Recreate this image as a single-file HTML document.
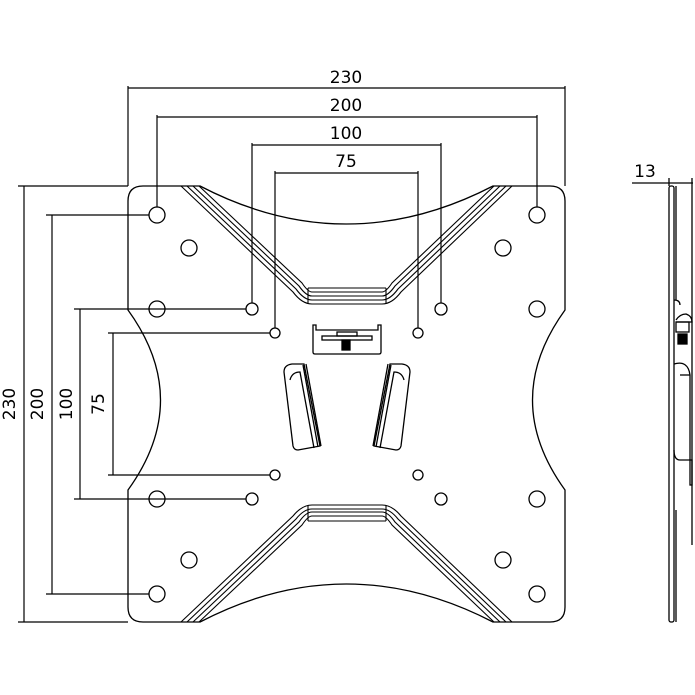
<!DOCTYPE html>
<html><head><style>body{margin:0;background:#fff}svg{display:block}text{font-family:"DejaVu Sans","Liberation Sans",sans-serif;font-size:17px;fill:#000}</style></head>
<body>
<svg width="695" height="695" viewBox="0 0 695 695" fill="none" stroke="#000" stroke-width="1.3">
<!-- dimension lines -->
<g stroke-width="1.2">
<line x1="128" y1="86" x2="128" y2="186"/><line x1="565" y1="86" x2="565" y2="186"/><line x1="128" y1="88" x2="565" y2="88"/>
<line x1="157" y1="115" x2="157" y2="207"/><line x1="537" y1="115" x2="537" y2="207"/><line x1="157" y1="117" x2="537" y2="117"/>
<line x1="252" y1="143" x2="252" y2="303"/><line x1="441" y1="143" x2="441" y2="303"/><line x1="252" y1="145" x2="441" y2="145"/>
<line x1="275" y1="171" x2="275" y2="328"/><line x1="418" y1="171" x2="418" y2="328"/><line x1="275" y1="173" x2="418" y2="173"/>
<line x1="18" y1="186" x2="128" y2="186"/><line x1="18" y1="622" x2="128" y2="622"/><line x1="24" y1="186" x2="24" y2="622"/>
<line x1="46" y1="215" x2="149" y2="215"/><line x1="46" y1="594" x2="149" y2="594"/><line x1="52" y1="215" x2="52" y2="594"/>
<line x1="74" y1="309" x2="246" y2="309"/><line x1="74" y1="499" x2="246" y2="499"/><line x1="80" y1="309" x2="80" y2="499"/>
<line x1="108" y1="333" x2="270" y2="333"/><line x1="108" y1="475" x2="270" y2="475"/><line x1="113" y1="333" x2="113" y2="475"/>
</g>
<g stroke="none">
<text x="346" y="83" text-anchor="middle">230</text>
<text x="346" y="111" text-anchor="middle">200</text>
<text x="346" y="139" text-anchor="middle">100</text>
<text x="346" y="167" text-anchor="middle">75</text>
<text transform="translate(15,404) rotate(-90)" text-anchor="middle">230</text>
<text transform="translate(43,404) rotate(-90)" text-anchor="middle">200</text>
<text transform="translate(72,404) rotate(-90)" text-anchor="middle">100</text>
<text transform="translate(104,404) rotate(-90)" text-anchor="middle">75</text>
<text x="645" y="177" text-anchor="middle">13</text>
</g>
<!-- plate outline -->
<path d="M143 186 L200 186 Q346 262 493 186 L550 186 Q565 186 565 201 L565 310 Q500 400 565 490 L565 607 Q565 622 550 622 L493 622 Q346 546 200 622 L143 622 Q128 622 128 607 L128 490 Q193 400 128 310 L128 201 Q128 186 143 186 Z"/>
<!-- top ribs -->
<g stroke-width="1.1">
<path d="M181 186 L293 292 Q302 304 312 304 L382 304 Q392 304 401 292 L512 186"/>
<path d="M187 186 L296 289 Q304 300 312 300 L382 300 Q390 300 398 289 L506 186"/>
<path d="M193 186 L299 286 Q306 296 312 296 L382 296 Q388 296 395 286 L500 186"/>
<path d="M199 186 L302 283 Q308 292 312 292 L382 292 Q386 292 392 283 L494 186"/>
<line x1="308" y1="288" x2="308" y2="304"/><line x1="386" y1="288" x2="386" y2="304"/>
<line x1="308" y1="288" x2="386" y2="288"/>
<!-- bottom ribs -->
<path d="M181 622 L293 516 Q302 505 312 505 L382 505 Q392 505 401 516 L512 622"/>
<path d="M187 622 L296 519 Q304 509 312 509 L382 509 Q390 509 398 519 L506 622"/>
<path d="M193 622 L299 522 Q306 512 312 512 L382 512 Q388 512 395 522 L500 622"/>
<path d="M199 622 L302 525 Q308 516 312 516 L382 516 Q386 516 392 525 L494 622"/>
<line x1="308" y1="505" x2="308" y2="521"/><line x1="386" y1="505" x2="386" y2="521"/>
<line x1="308" y1="521" x2="386" y2="521"/>
</g>
<!-- holes -->
<g>
<circle cx="157" cy="215" r="8"/><circle cx="537" cy="215" r="8"/>
<circle cx="189" cy="248" r="8"/><circle cx="503" cy="248" r="8"/>
<circle cx="157" cy="309" r="8"/><circle cx="537" cy="309" r="8"/>
<circle cx="252" cy="309" r="6"/><circle cx="441" cy="309" r="6"/>
<circle cx="275" cy="333" r="5"/><circle cx="418" cy="333" r="5"/>
<circle cx="275" cy="475" r="5"/><circle cx="418" cy="475" r="5"/>
<circle cx="252" cy="499" r="6"/><circle cx="441" cy="499" r="6"/>
<circle cx="157" cy="499" r="8"/><circle cx="537" cy="499" r="8"/>
<circle cx="189" cy="560" r="8"/><circle cx="503" cy="560" r="8"/>
<circle cx="157" cy="594" r="8"/><circle cx="537" cy="594" r="8"/>
</g>
<!-- center latch -->
<path d="M313 325 L313 352 Q313 354 315 354 L379 354 Q381 354 381 352 L381 325 L378 325 L378 330 L316 330 L316 325 Z"/>
<rect x="322" y="336" width="50" height="4"/>
<rect x="337" y="332" width="20" height="4"/>
<rect x="342" y="340" width="8" height="10" fill="#000"/>
<!-- hooks -->
<path d="M284 372 Q284 365 292 364 L304 364 L320 446 L298 450 Q294 450 293 446 Z"/>
<path d="M290 380 Q292 372 300 372 L314 448"/>
<line x1="303" y1="365" x2="318" y2="447"/><line x1="306" y1="364" x2="321" y2="446"/>
<path d="M410 372 Q410 365 402 364 L390 364 L374 446 L396 450 Q400 450 401 446 Z"/>
<path d="M404 380 Q402 372 394 372 L380 448"/>
<line x1="391" y1="365" x2="376" y2="447"/><line x1="388" y1="364" x2="373" y2="446"/>
<!-- side view -->
<line x1="632" y1="183" x2="693" y2="183"/>
<line x1="669" y1="178" x2="669" y2="186"/><line x1="692" y1="178" x2="692" y2="545"/>
<rect x="669" y="186" width="5" height="436" rx="2"/>
<line x1="676" y1="186" x2="676" y2="300"/><line x1="676" y1="510" x2="676" y2="622"/>
<path d="M674 300 Q680 300 680 305"/>
<path d="M676 320 Q680 314 686 314 Q692 316 692 322 L676 322"/>
<rect x="676" y="322" width="13" height="10"/>
<rect x="678" y="334" width="9" height="10" fill="#000"/>
<path d="M674 364 Q688 360 690 375 L690 460 L680 460 Q674 460 674 450"/>
<line x1="680" y1="375" x2="690" y2="375"/>
<rect x="690" y="460" width="2" height="25"/>
</svg>
</body></html>
